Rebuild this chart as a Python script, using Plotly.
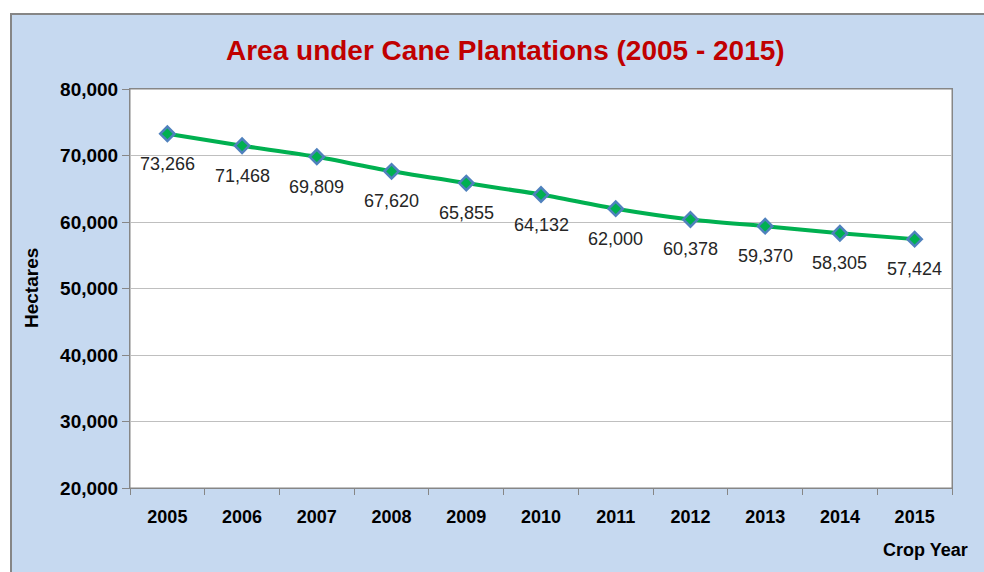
import plotly.graph_objects as go

years = [2005, 2006, 2007, 2008, 2009, 2010, 2011, 2012, 2013, 2014, 2015]
hectares = [73266, 71468, 69809, 67620, 65855, 64132, 62000, 60378, 59370, 58305, 57424]
y_ticks = [20000, 30000, 40000, 50000, 60000, 70000, 80000]

W, H = 984, 572
L, R, T, B = 130, 32, 89, 84
pw, ph = W - L - R, H - T - B

def px_x(p):
    return (p - L) / pw

def px_y(p):
    return (H - B - p) / ph

FONT = "Liberation Sans Narrow, Arial Narrow, Liberation Sans, Arial, sans-serif"

boundaries = [y - 0.5 for y in years] + [years[-1] + 0.5]

fig = go.Figure()
fig.add_trace(go.Scatter(
    x=years, y=hectares, mode="lines+markers",
    line=dict(color="#00B050", width=4, shape="spline", smoothing=0.6),
    marker=dict(symbol="diamond", size=11, color="#00B050",
                line=dict(color="#4F81BD", width=2.5)),
    hoverinfo="x+y", showlegend=False,
))

for xv, yv in zip(years, hectares):
    fig.add_annotation(x=xv, y=yv, text=f"{yv:,}", showarrow=False,
                       yshift=-30, font=dict(family=FONT, size=18, color="#262626"))

# background panel with gray border
fig.add_shape(type="rect", xref="paper", yref="paper",
              x0=px_x(11), x1=px_x(1000), y0=px_y(590), y1=px_y(14),
              fillcolor="#C6D9F0", line=dict(color="#868686", width=2), layer="below")
fig.add_shape(type="rect", xref="paper", yref="paper",
              x0=0, x1=1, y0=0, y1=1,
              fillcolor="white", line=dict(color="#868686", width=1), layer="below")

fig.add_annotation(text="Area under Cane Plantations (2005 - 2015)", xref="paper", yref="paper",
                   x=px_x(505), y=px_y(51), xanchor="center", yanchor="middle", showarrow=False,
                   font=dict(family=FONT, size=28, color="#C00000", weight="bold"))
fig.add_annotation(text="Hectares", xref="paper", yref="paper", x=px_x(31), y=px_y(288),
                   xanchor="center", yanchor="middle",
                   textangle=-90, showarrow=False,
                   font=dict(family=FONT, size=19, color="black", weight="bold"))
fig.add_annotation(text="Crop Year", xref="paper", yref="paper", x=px_x(925), y=px_y(550),
                   xanchor="center", yanchor="middle", showarrow=False,
                   font=dict(family=FONT, size=18, color="black", weight="bold"))

fig.update_xaxes(range=[boundaries[0], boundaries[-1]], tickvals=years,
                 ticktext=[str(y) for y in years], ticks="", ticklabelstandoff=12,
                 minor=dict(tickvals=boundaries, ticks="outside", ticklen=6,
                            tickcolor="#868686", showgrid=False),
                 showline=True, linecolor="#868686", linewidth=1,
                 mirror=True, showgrid=False, zeroline=False,
                 tickfont=dict(family=FONT, size=18, color="black", weight="bold"))
fig.update_yaxes(range=[20000, 80000], tickvals=y_ticks, tickformat=",d",
                 ticks="outside", ticklen=7, tickcolor="#868686",
                 showline=True, linecolor="#868686", linewidth=1, mirror=True,
                 showgrid=True, gridcolor="#BFBFBF", gridwidth=1,
                 zeroline=False,
                 tickfont=dict(family=FONT, size=19, color="black", weight="bold"))

fig.update_layout(width=W, height=H, margin=dict(l=L, r=R, t=T, b=B),
                  paper_bgcolor="white", plot_bgcolor="white")

fig.write_html("out.html")
